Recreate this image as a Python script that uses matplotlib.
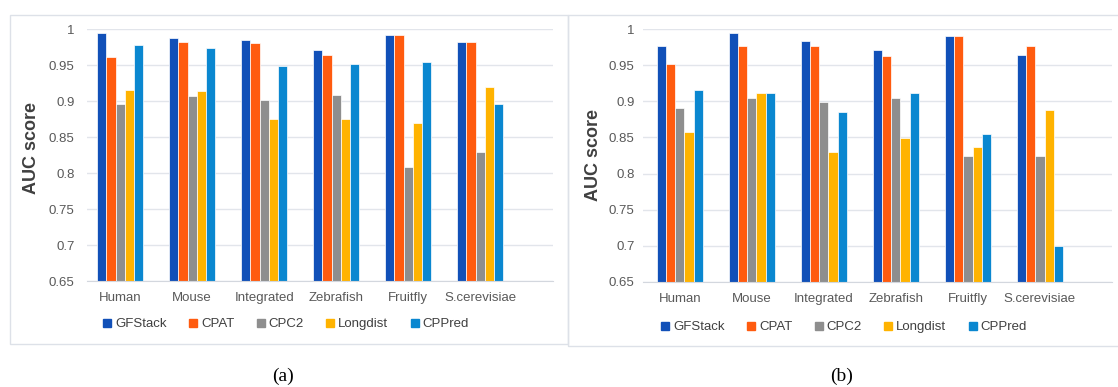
import matplotlib.pyplot as plt
import numpy as np
from matplotlib.patches import Rectangle
from matplotlib.lines import Line2D

categories = ["Human", "Mouse", "Integrated", "Zebrafish", "Fruitfly", "S.cerevisiae"]
methods = ["GFStack", "CPAT", "CPC2", "Longdist", "CPPred"]
colors = ["#1150B8", "#FF5B0F", "#8E8E8E", "#FFB300", "#0A87D0"]

# panel (a)
gfstack_a = [0.995, 0.987, 0.985, 0.971, 0.992, 0.982]
cpat_a = [0.961, 0.982, 0.980, 0.964, 0.991, 0.982]
cpc2_a = [0.896, 0.907, 0.902, 0.909, 0.809, 0.829]
longdist_a = [0.915, 0.914, 0.875, 0.875, 0.869, 0.920]
cppred_a = [0.978, 0.974, 0.949, 0.952, 0.954, 0.896]

# panel (b)
gfstack_b = [0.977, 0.995, 0.984, 0.971, 0.990, 0.964]
cpat_b = [0.951, 0.976, 0.977, 0.963, 0.990, 0.977]
cpc2_b = [0.891, 0.904, 0.899, 0.904, 0.824, 0.824]
longdist_b = [0.858, 0.912, 0.830, 0.849, 0.837, 0.888]
cppred_b = [0.915, 0.911, 0.885, 0.911, 0.855, 0.700]

yticks = [0.65, 0.7, 0.75, 0.8, 0.85, 0.9, 0.95, 1.0]
ytick_labels = ["0.65", "0.7", "0.75", "0.8", "0.85", "0.9", "0.95", "1"]

plt.rcParams['font.family'] = ['Liberation Sans', 'DejaVu Sans']

W, H = 1118, 387
fig = plt.figure(figsize=(W / 100, H / 100), dpi=100)


def px(x0, y0, x1, y1):
    return [x0 / W, 1 - y1 / H, (x1 - x0) / W, (y1 - y0) / H]


def draw_panel(rect, series, xlim, leg_xy, ylab_xy, ypad):
    ax = fig.add_axes(rect)
    x = np.arange(len(categories))
    bw = 0.128
    for i, vals in enumerate(series):
        base = 0.65
        ax.bar(x + (i - 2) * bw, np.array(vals) - base, bw, bottom=base,
               color=colors[i], edgecolor="white", linewidth=0.5,
               label=methods[i], zorder=3)
    ax.set_ylim(0.65, 1.0)
    ax.set_xlim(*xlim)
    ax.set_yticks(yticks)
    ax.set_yticklabels(ytick_labels)
    ax.set_xticks(x)
    ax.set_xticklabels(categories)
    ax.tick_params(axis="both", length=0, labelsize=9.5, labelcolor="#595959")
    ax.tick_params(axis="y", pad=ypad)
    ax.tick_params(axis="x", pad=8)
    ax.grid(axis="y", color="#E2E5EB", linewidth=1, zorder=0)
    for s in ["top", "right", "left"]:
        ax.spines[s].set_visible(False)
    ax.spines["bottom"].set_color("#D3D7DE")
    ax.spines["bottom"].set_zorder(4)
    handles = [Line2D([], [], marker="s", linestyle="none", markersize=5.5,
                      color=c) for c in colors]
    fig.legend(handles, methods, loc="center",
               bbox_to_anchor=(leg_xy[0] / W, 1 - leg_xy[1] / H),
               ncol=5, frameon=False, fontsize=9.5, handletextpad=0.1,
               columnspacing=1.5, handlelength=1.0, labelcolor="#404040")
    fig.text(ylab_xy[0] / W, 1 - ylab_xy[1] / H, "AUC score", rotation=90,
             ha="center", va="center", fontsize=13, fontweight="bold",
             color="#404040")
    return ax


draw_panel(px(87, 29, 553, 281),
           [gfstack_a, cpat_a, cpc2_a, longdist_a, cppred_a],
           (-0.46, 6.01), (285, 324), (32, 148), 9)
draw_panel(px(643, 29, 1112, 282),
           [gfstack_b, cpat_b, cpc2_b, longdist_b, cppred_b],
           (-0.51, 6.0), (843, 327), (593, 155), 6)

# panel frames
fig.add_artist(Rectangle((10 / W, 1 - 344 / H), 558 / W, 329 / H,
                         transform=fig.transFigure, fill=False,
                         edgecolor="#DDE1E8", linewidth=1))
fig.add_artist(Rectangle((568 / W, 1 - 346 / H), 560 / W, 331 / H,
                         transform=fig.transFigure, fill=False,
                         edgecolor="#DDE1E8", linewidth=1))

fig.text(283 / W, 1 - 376 / H, "(a)", ha="center", va="center",
         fontsize=14, family=["Liberation Serif", "DejaVu Serif"])
fig.text(842 / W, 1 - 376 / H, "(b)", ha="center", va="center",
         fontsize=14, family=["Liberation Serif", "DejaVu Serif"])

fig.savefig("out.png", dpi=100)
